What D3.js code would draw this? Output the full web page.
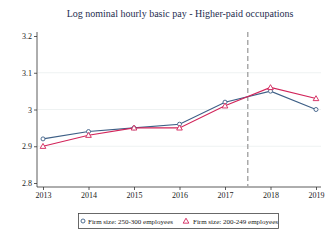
<!DOCTYPE html>
<html>
<head>
<meta charset="utf-8">
<script src="https://cdn.jsdelivr.net/npm/d3@7"></script>
<style>
body { margin: 0; background: #fff; }
text { font-family: "Liberation Serif", "Times New Roman", serif; }
</style>
</head>
<body>
<svg id="chart"></svg>
<script>
var years = [2013, 2014, 2015, 2016, 2017, 2018, 2019];
var bigFirms = [2.92, 2.94, 2.95, 2.96, 3.02, 3.05, 3.00];
var smallFirms = [2.90, 2.93, 2.95, 2.95, 3.01, 3.06, 3.03];
var yTicks = [2.8, 2.9, 3, 3.1, 3.2];
var cutYear = 2017.5;
var titleText = "Log nominal hourly basic pay - Higher-paid occupations";
var labels = ["Firm size: 250-300 employees", "Firm size: 200-249 employees"];

var W = 330, H = 240;
var svg = d3.select("#chart").attr("width", W).attr("height", H);

var x = d3.scaleLinear().domain([2013, 2019]).range([43, 316]);
var y = d3.scaleLinear().domain([2.8, 3.2]).range([183, 36]);

svg.append("text")
    .attr("x", 180).attr("y", 17)
    .attr("text-anchor", "middle")
    .attr("font-size", 10)
    .attr("fill", "#1e2d4f")
    .text(titleText);

// gridlines
svg.selectAll(".grid")
    .data(yTicks.slice(1, 4))
    .enter().append("line")
    .attr("x1", 38).attr("x2", 321)
    .attr("y1", d => y(d)).attr("y2", d => y(d))
    .attr("stroke", "#eef2f2").attr("stroke-width", 1);

var yAxis = svg.append("g")
    .attr("transform", "translate(37,0)")
    .call(d3.axisLeft(y).tickValues(yTicks).tickSize(3).tickPadding(2)
        .tickFormat(d => d === 3 ? "3" : d3.format(".1f")(d)));
yAxis.select(".domain").attr("d", "M0,32V187");

var xAxis = svg.append("g")
    .attr("transform", "translate(0,187)")
    .call(d3.axisBottom(x).tickValues(years).tickSize(3).tickPadding(2).tickFormat(d3.format("d")));
xAxis.select(".domain").attr("d", "M37,0H321");

svg.selectAll(".domain, .tick line").attr("stroke", "#333").attr("stroke-width", 0.8);
svg.selectAll(".tick text").attr("font-size", 8).attr("fill", "#222");

// cut line
svg.append("line")
    .attr("x1", x(cutYear)).attr("x2", x(cutYear))
    .attr("y1", 32).attr("y2", 187)
    .attr("stroke", "#aaa").attr("stroke-width", 1.5)
    .attr("stroke-dasharray", "5,3");

var blue = "#3d5f86", red = "#d2245a";
var line = d3.line().x((d, i) => x(years[i])).y(d => y(d));

svg.append("path").datum(bigFirms).attr("d", line)
    .attr("fill", "none").attr("stroke", blue).attr("stroke-width", 1.1);
svg.append("path").datum(smallFirms).attr("d", line)
    .attr("fill", "none").attr("stroke", red).attr("stroke-width", 1.1);

var tri = d3.symbol().type(d3.symbolTriangle).size(14);

svg.selectAll(".ptb").data(bigFirms).enter().append("circle")
    .attr("cx", (d, i) => x(years[i])).attr("cy", d => y(d)).attr("r", 2)
    .attr("fill", "white").attr("stroke", blue).attr("stroke-width", 0.9);
svg.selectAll(".pts").data(smallFirms).enter().append("path")
    .attr("d", tri)
    .attr("transform", (d, i) => "translate(" + x(years[i]) + "," + (y(d) + 0.5) + ")")
    .attr("fill", "white").attr("stroke", red).attr("stroke-width", 0.9);

// legend
var lg = svg.append("g");
lg.append("rect").attr("x", 78.5).attr("y", 213.5).attr("width", 200).attr("height", 15)
    .attr("fill", "white").attr("stroke", "#444").attr("stroke-width", 0.8);
lg.append("circle").attr("cx", 83).attr("cy", 221).attr("r", 2)
    .attr("fill", "white").attr("stroke", blue).attr("stroke-width", 0.9);
lg.append("text").attr("x", 88).attr("y", 223.5).attr("font-size", 7).attr("fill", "#222").text(labels[0]);
lg.append("path").attr("d", tri).attr("transform", "translate(186,221.5)")
    .attr("fill", "white").attr("stroke", red).attr("stroke-width", 0.9);
lg.append("text").attr("x", 193).attr("y", 223.5).attr("font-size", 7).attr("fill", "#222").text(labels[1]);
</script>
</body>
</html>
